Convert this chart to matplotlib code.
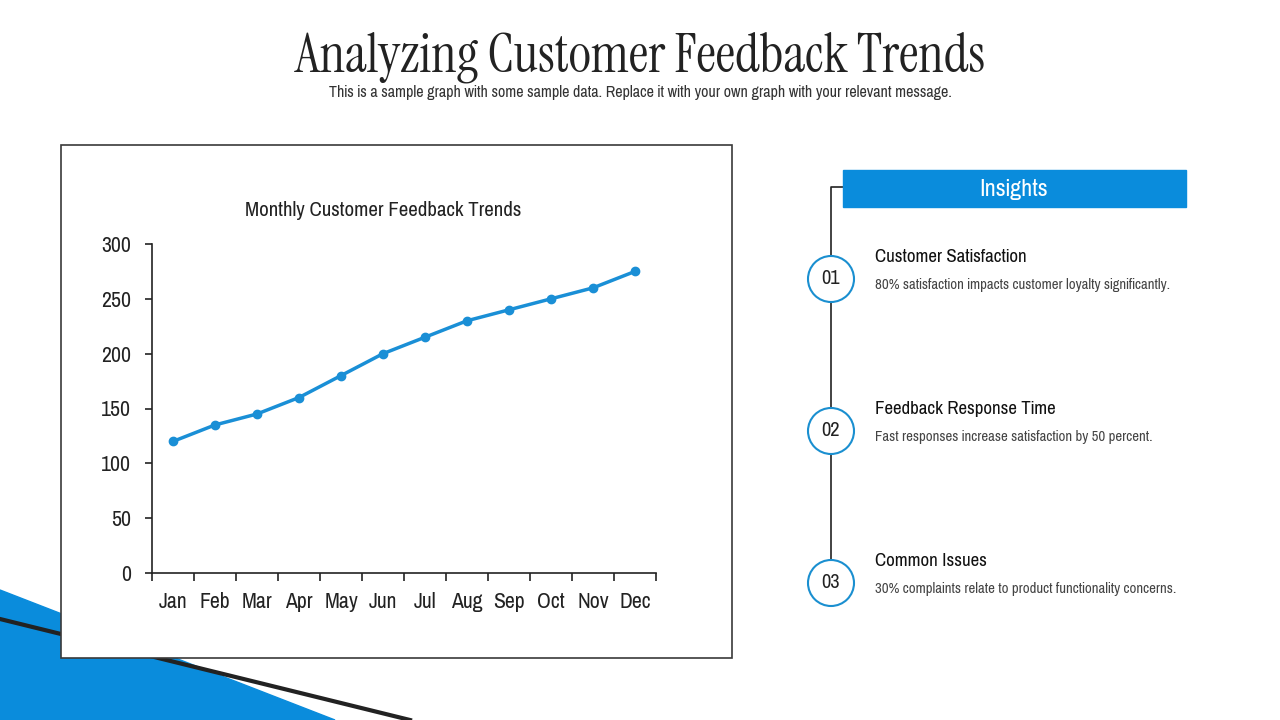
import matplotlib
matplotlib.use("Agg")
import matplotlib.pyplot as plt
from matplotlib.patches import Rectangle, Polygon, Circle

# data
months = ["Jan", "Feb", "Mar", "Apr", "May", "Jun", "Jul", "Aug", "Sep", "Oct", "Nov", "Dec"]
feedback = [120, 135, 145, 160, 180, 200, 215, 230, 240, 250, 260, 275]

insight_nums = ["01", "02", "03"]
insight_titles = ["Customer Satisfaction", "Feedback Response Time", "Common Issues"]
insight_texts = ["80% satisfaction impacts customer loyalty significantly.",
                 "Fast responses increase satisfaction by 50 percent.",
                 "30% complaints relate to product functionality concerns."]

BLUE = "#0a8cdc"
SANS = ["Pragati Narrow", "DejaVu Sans"]
SERIF = ["Instrument Serif", "DejaVu Serif"]

fig = plt.figure(figsize=(12.8, 7.2), dpi=100)

# background layer in pixel coords
bg = fig.add_axes([0, 0, 1, 1])
bg.set_xlim(0, 1280)
bg.set_ylim(720, 0)
bg.axis("off")

bg.add_patch(Polygon([(0, 590), (335, 720), (0, 720)], closed=True, color=BLUE, zorder=1))
bg.plot([0, 410], [619, 720], color="#222222", lw=3, zorder=2)
bg.add_patch(Rectangle((61, 145), 671, 513, facecolor="white", edgecolor="#3a3a3a", lw=1.2, zorder=3))

# titles
fig.text(0.5, 1 - 57 / 720, "Analyzing Customer Feedback Trends", ha="center", va="center",
         fontsize=39, family=SERIF, color="#222222")
fig.text(0.5, 1 - 92 / 720, "This is a sample graph with some sample data. Replace it with your own graph with your relevant message.",
         ha="center", va="center", fontsize=12.5, family=SANS, color="#333333")

# insights panel
bg.add_patch(Rectangle((843, 170), 343, 37, color=BLUE, zorder=2))
bg.text(1014, 189, "Insights", ha="center", va="center", fontsize=19, family=SANS, color="white", zorder=3)
bg.plot([843, 831, 831], [187, 187, 583], color="#222222", lw=1.2, zorder=1)
ys = [279, 431, 583]
for n, t, d, y in zip(insight_nums, insight_titles, insight_texts, ys):
    bg.add_patch(Circle((831, y), 23, facecolor="white", edgecolor="#1a8fd0", lw=1.5, zorder=2))
    bg.text(831, y, n, ha="center", va="center", fontsize=16, family=SANS, color="#222222", zorder=3)
    bg.text(875, y - 22, t, ha="left", va="center", fontsize=14.8, family=SANS, color="#111111", zorder=3)
    bg.text(875, y + 6, d, ha="left", va="center", fontsize=11.6, family=SANS, color="#444444", zorder=3)

# chart
ax = fig.add_axes([152 / 1280, 1 - 573 / 720, 504 / 1280, 329 / 720])
ax.patch.set_alpha(0)
x = list(range(len(months)))
ax.plot(x, feedback, color="#1a8fd6", lw=2.5, marker="o", markersize=6)
ax.set_xlim(-0.5, len(months) - 0.5)
ax.set_ylim(0, 300)
ax.set_yticks(range(0, 301, 50))
ax.set_xticks([i - 0.5 for i in range(len(months) + 1)])
ax.set_xticklabels([])
ax.set_xticks(x, minor=True)
ax.set_xticklabels(months, minor=True)
ax.tick_params(axis="x", which="major", length=6, width=1.2, direction="out", color="#222222")
ax.tick_params(axis="x", which="minor", length=0, pad=14, labelsize=17)
ax.tick_params(axis="y", length=5, width=1.2, labelsize=17, pad=10, color="#222222")
for lab in ax.get_xticklabels(minor=True) + ax.get_yticklabels():
    lab.set_family(SANS)
    lab.set_color("#222222")
ax.spines["top"].set_visible(False)
ax.spines["right"].set_visible(False)
ax.spines["left"].set_color("#222222")
ax.spines["bottom"].set_color("#222222")
ax.spines["left"].set_linewidth(1.2)
ax.spines["bottom"].set_linewidth(1.2)
ax.text(0.458, 1 + 34 / 329, "Monthly Customer Feedback Trends", transform=ax.transAxes,
        ha="center", va="center", fontsize=16.3, family=SANS, color="#222222")

fig.savefig("out.png")
